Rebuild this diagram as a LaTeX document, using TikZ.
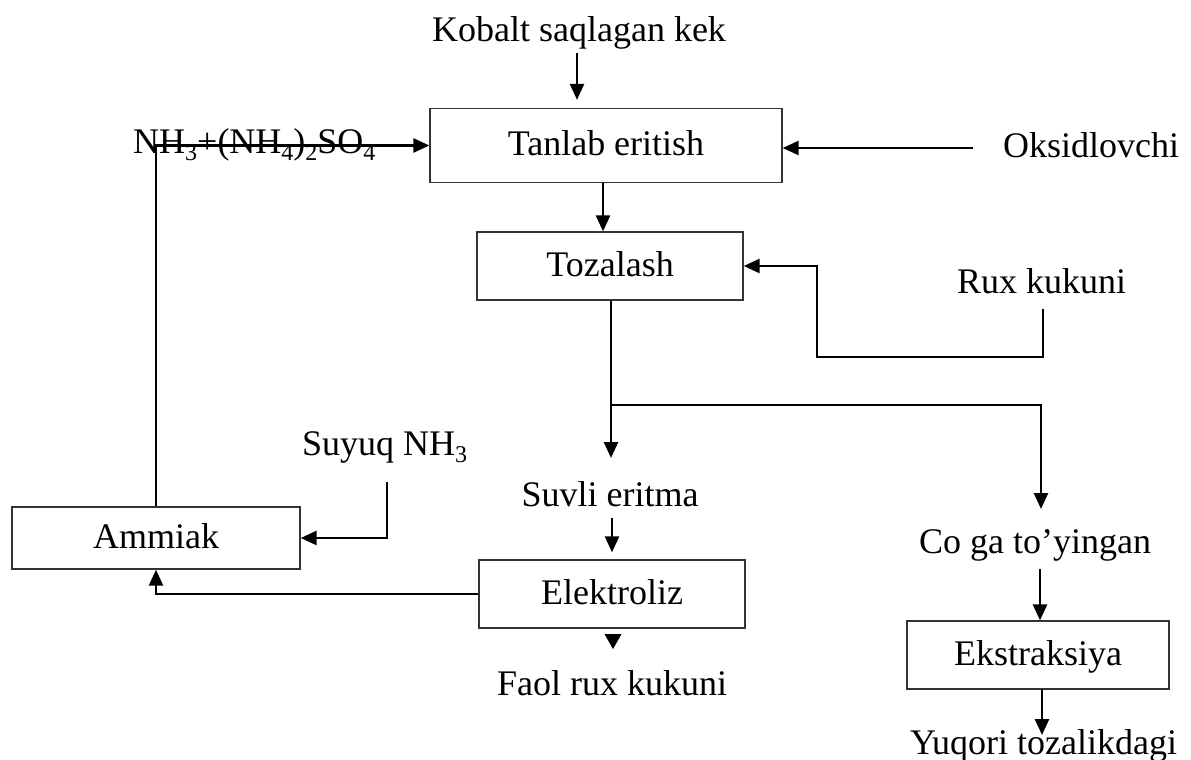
\documentclass[tikz,border=0pt]{standalone}
\usepackage{fontspec}
\setmainfont{Liberation Serif}
\usetikzlibrary{arrows.meta}
\newcommand{\subs}[1]{\raisebox{-0.22em}{\fontsize{24}{26}\selectfont #1}}
\begin{document}
\begin{tikzpicture}[x=1pt,y=-1pt,
  font=\fontsize{36}{42}\selectfont,
  box/.style={draw=black!80,line width=1.3pt,inner sep=0pt,text height=22pt,text depth=2pt},
  lbl/.style={inner sep=0pt,anchor=base},
  lblw/.style={inner sep=0pt,anchor=base west},
  conn/.style={line width=2.6pt},
  arr/.style={conn,-{Triangle[length=16pt,width=14pt]}},
]
\useasboundingbox (0,0) rectangle (1191,760);

% boxes
\node[box,minimum width=352pt,minimum height=74pt] (tanlab) at (606,145.5) {Tanlab eritish};
\node[box,minimum width=266pt,minimum height=68pt] (tozalash) at (610,266) {Tozalash};
\node[box,minimum width=266pt,minimum height=68pt] (elektroliz) at (612,594) {Elektroliz};
\node[box,minimum width=288pt,minimum height=62pt] (ammiak) at (156,538) {Ammiak};
\node[box,minimum width=262pt,minimum height=68pt] (ekstr) at (1038,655) {Ekstraksiya};

% labels
\node[lbl] (kek) at (579,42) {Kobalt saqlagan kek};
\node[lblw] (nh3) at (133,153) {NH\subs{3}+(NH\subs{4})\subs{2}SO\subs{4}};
\node[lblw] (oks) at (1003,157) {Oksidlovchi};
\node[lblw] (rux) at (957,293) {Rux kukuni};
\node[lblw] (suyuq) at (302,455) {Suyuq NH\subs{3}};
\node[lbl] (suvli) at (610,506) {Suvli eritma};
\node[lbl] (coga) at (1035,553) {Co ga to’yingan};
\node[lbl] (faol) at (612,695) {Faol rux kukuni};
\node[lblw] (yuqori) at (910,754) {Yuqori tozalikdagi};

% connector coordinates
\coordinate (kekA) at (577,53);
\coordinate (oksA) at (973,148);
\coordinate (t1) at (603,183);
\coordinate (ruxA) at (1043,309);
\coordinate (ruxB) at (817,357);
\coordinate (br) at (611,405);
\coordinate (sTip) at (611,458);
\coordinate (cTip) at (1041,509);
\coordinate (s2) at (612,518);
\coordinate (su) at (387,482);
\coordinate (c1) at (1040,569);
\coordinate (e1) at (1042,689);
\coordinate (yTip) at (1042,735);

% connectors
\draw[arr,shorten >=8pt] (kekA) -- (kekA |- tanlab.north);
\draw[arr] (ammiak.north) |- (tanlab.west);
\draw[arr] (oksA) -- (oksA -| tanlab.east);
\draw[arr] (t1) -- (t1 |- tozalash.north);
\draw[arr] (ruxA) |- (ruxB) |- (tozalash.east);
\draw[conn] (tozalash.south -| br) -- (br);
\draw[arr] (br) -- (sTip);
\draw[arr] (br) -| (cTip);
\draw[arr,shorten >=7pt] (s2) -- (s2 |- elektroliz.north);
\draw[arr] (elektroliz.west) -| (ammiak.south);
\draw[arr] (su) |- (ammiak.east);
\draw[arr] (c1) -- (c1 |- ekstr.north);
\draw[arr] (e1) -- (yTip);
\fill (604.5,634) -- (621.5,634) -- (613,649) -- cycle;
\end{tikzpicture}
\end{document}
